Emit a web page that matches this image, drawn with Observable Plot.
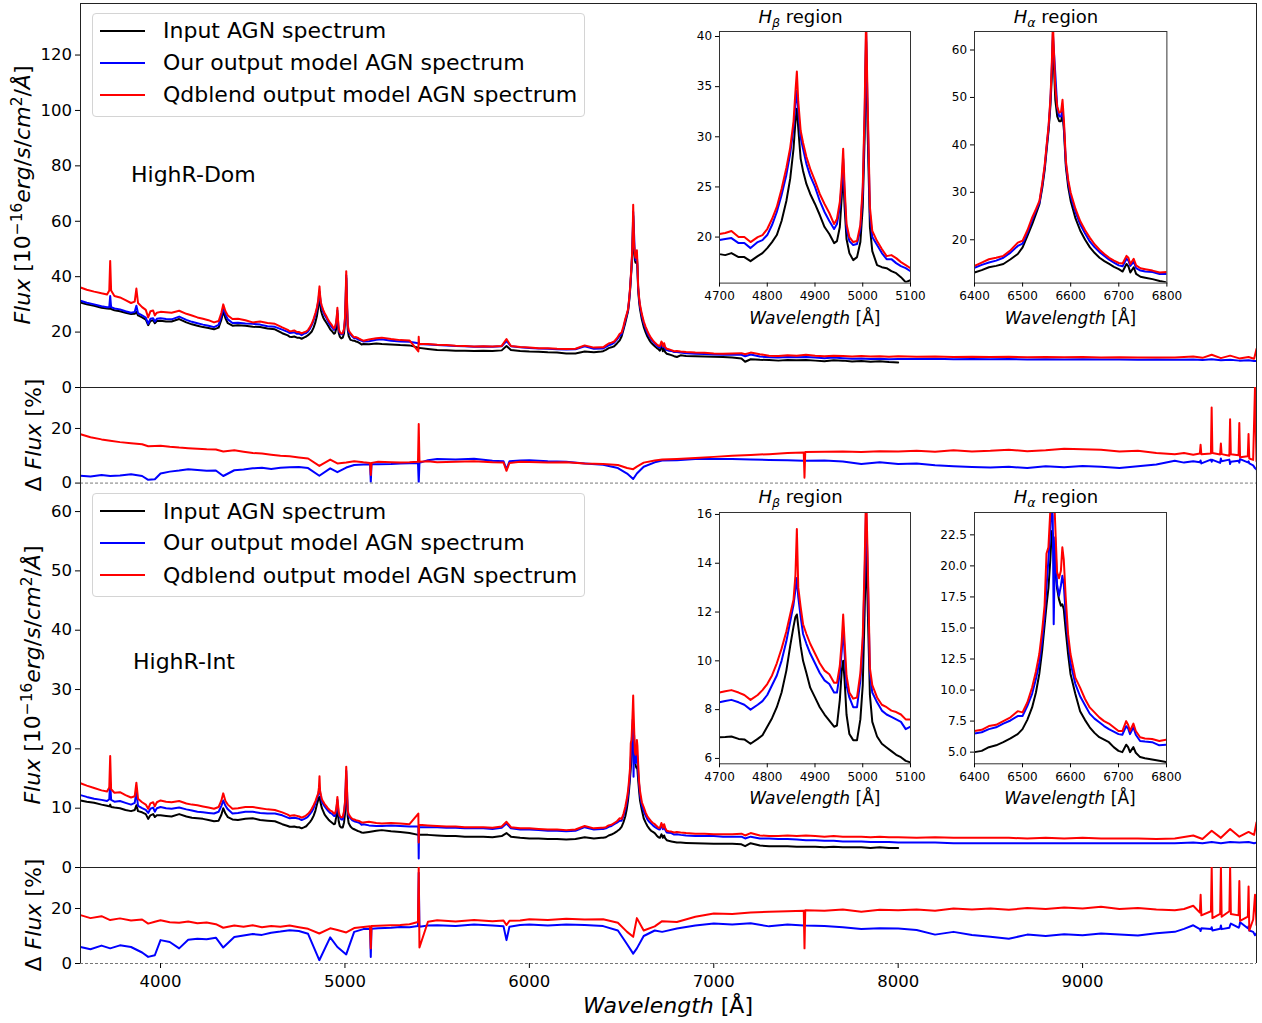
<!DOCTYPE html>
<html>
<head>
<meta charset="utf-8">
<script src="https://cdn.jsdelivr.net/npm/d3@7"></script>
<script src="https://cdn.jsdelivr.net/npm/@observablehq/plot@0.6"></script>
<style>
html,body{margin:0;padding:0;background:#fff;}
#fig{position:relative;width:1262px;height:1023px;overflow:hidden;background:#fff;font-family:"DejaVu Sans",sans-serif;}
#fig sup{font-size:0.7em;line-height:0;vertical-align:0.5em;}
#fig sub{font-size:0.7em;line-height:0;vertical-align:-0.3em;}
</style>
</head>
<body>
<div id="fig"></div>
<script>
// ---------------- labels / categories ----------------
const seriesNames = ["Input AGN spectrum", "Our output model AGN spectrum", "Qdblend output model AGN spectrum"];
const seriesColors = ["#000000", "#0000ff", "#ff0000"];
const panelNames = ["HighR-Dom", "HighR-Int"];
const xTicksMain = [4000, 5000, 6000, 7000, 8000, 9000];
const yTicksDomFlux = [0, 20, 40, 60, 80, 100, 120];
const yTicksIntFlux = [0, 10, 20, 30, 40, 50, 60];
const yTicksDelta = [0, 20];
const hbTicksX = [4700, 4800, 4900, 5000, 5100];
const haTicksX = [6400, 6500, 6600, 6700, 6800];
const hbTicksDom = [20, 25, 30, 35, 40];
const haTicksDom = [20, 30, 40, 50, 60];
const hbTicksInt = [6, 8, 10, 12, 14, 16];
const haTicksInt = [5, 7.5, 10, 12.5, 15, 17.5, 20, 22.5];

// ---------------- wavelength grids (Å) ----------------
const wlA = [3566,3600,3640,3680,3710,3722,3727,3732,3750,3780,
  3810,3840,3860,3869,3878,3900,3920,3933,3945,3960,
  3969,3980,4000,4030,4060,4101,4140,4170,4200,4230,
  4260,4290,4315,4330,4340,4352,4365,4390,4420,4460,
  4500,4540,4580,4620,4660,4690];
const hbWl = [4700,4712,4725,4740,4752,4765,4780,4790,4800,4810,
  4820,4830,4840,4848,4855,4859,4862,4865,4870,4875,
  4882,4890,4900,4910,4920,4930,4940,4946,4952,4956,
  4959,4962,4966,4972,4980,4988,4995,5000,5004,5007,
  5010,5015,5020,5030,5040,5050,5060,5070,5080,5090,
  5100];
const wlB = [5130,5170,5200,5250,5300,5350,5398,5400,5402,5450,
  5500,5550,5600,5650,5700,5750,5800,5850,5876,5900,
  5950,6000,6050,6100,6150,6200,6250,6300,6350,6390];
const haWl = [6400,6415,6430,6445,6460,6475,6490,6500,6510,6520,
  6528,6535,6541,6546,6550,6554,6558,6561,6563,6565,
  6568,6572,6576,6580,6583,6586,6590,6595,6600,6610,
  6620,6630,6640,6650,6660,6670,6680,6690,6700,6708,
  6716,6720,6724,6731,6736,6745,6755,6770,6785,6800];
const wlC = [6820,6850,6900,6950,7000,7050,7100,7150,7170,7200,
  7250,7300,7350,7400,7450,7500,7550,7600,7650,7700,
  7750,7800,7850,7900,7950,8000,8100,8200,8300,8400,
  8500,8600,8700,8800,8900,9000,9100,9200,9300,9400,
  9500,9600,9650,9700,9750,9800,9850,9900,9930,9943];
const dWl = [3566,3620,3680,3727,3780,3840,3900,3933,3969,4000,
  4050,4101,4150,4200,4250,4300,4340,4400,4450,4500,
  4550,4600,4650,4700,4750,4800,4861,4920,4959,5007,
  5050,5100,5136,5140,5144,5180,5250,5300,5350,5396,
  5400,5404,5450,5500,5600,5700,5800,5860,5876,5892,
  5950,6000,6100,6200,6300,6400,6480,6530,6563,6583,
  6620,6680,6720,6800,6900,7000,7100,7200,7300,7400,
  7488,7492,7496,7600,7700,7800,7900,8000,8100,8200,
  8300,8400,8500,8600,8700,8800,8900,9000,9100,9200,
  9300,9400,9500,9550,
  9600,9636,9640,9644,9696,9700,9704,9746,9750,9754,
  9796,9800,9804,9846,9850,9854,9896,9900,9904,9925,
  9935,9943];

// ---------------- HighR-Dom flux (1e-16 erg/s/cm2/Å) ----------------
const domBlackA = [30.7,30.0,29.5,28.8,28.5,28.4,29.2,28.3,27.9,27.5, 27.0,26.5,26.6,27.3,26.0,25.3,24.5,22.5,24.0,24.3, 23.2,24.0,24.1,23.8,23.8,24.7,23.5,22.8,22.3,21.8, 21.5,21.0,21.6,24.5,27.5,25.0,23.2,22.3,22.5,22.3, 21.9,21.8,21.3,21.0,19.6,18.8];
const domBlueA = [31.3,30.6,30.0,29.3,29.0,29.0,33.0,29.0,28.5,28.2, 27.5,27.0,27.3,29.5,26.8,26.0,25.2,23.0,24.8,25.0, 23.8,24.8,25.0,24.7,24.6,25.6,24.4,23.7,23.2,22.7, 22.3,21.8,22.6,25.8,28.9,26.3,24.6,23.3,23.4,23.1, 23.0,22.7,22.1,21.9,20.9,20.1];
const domRedA = [36.1,35.3,34.6,34.0,33.6,35.0,45.7,35.0,33.0,32.5, 31.5,30.5,31.0,35.7,30.5,29.0,28.0,25.3,27.5,27.8, 26.0,27.0,27.3,27.2,27.0,27.7,26.6,26.0,25.3,24.8, 24.3,23.5,24.0,27.0,30.0,27.5,26.0,24.7,24.8,24.3, 23.5,23.8,23.3,23.0,21.7,20.8];
const domHbBlack = [18.3,18.2,18.4,18.0,18.0,17.6,18.1,18.4,18.9,19.5, 20.2,21.6,23.6,25.8,28.8,31.5,32.8,30.8,27.8,26.6, 25.3,24.3,23.3,22.2,21.0,20.3,19.4,19.6,21.0,24.0, 26.6,23.0,19.8,18.4,17.7,18.0,19.5,23.0,30.0,39.5, 31.0,21.0,18.6,17.2,17.0,16.9,16.6,16.4,16.0,15.5, 15.7];
const domHbBlue = [19.7,19.8,19.9,19.4,19.4,18.9,19.5,19.7,20.2,21.2, 22.5,24.2,26.2,28.3,30.9,33.2,34.6,32.6,29.9,28.8, 27.3,26.1,25.0,23.6,22.5,21.6,20.8,21.3,23.0,25.3, 27.8,24.3,20.8,19.6,19.2,19.3,20.8,24.5,32.0,40.5, 33.0,22.4,20.0,19.2,18.4,17.8,17.8,17.4,17.1,16.9, 16.6];
const domHbRed = [20.3,20.4,20.6,20.0,20.0,19.5,20.0,20.2,20.8,21.8, 23.0,24.8,26.9,28.9,31.5,34.5,36.5,33.5,30.6,29.4, 28.0,26.8,25.6,24.3,23.3,22.4,21.3,21.8,23.5,26.0, 28.8,25.0,21.3,20.0,19.5,19.6,21.2,25.0,33.0,42.0, 34.0,23.0,20.6,19.6,18.8,18.1,18.2,17.9,17.5,17.2, 16.9];
const domBlackB = [15.6,15.9,15.7,15.5,15.3,15.2,14.4,14.0,14.3,13.9, 13.5,13.4,13.3,13.3,13.2,13.3,13.2,13.4,15.0,13.5, 13.2,13.0,12.9,12.7,12.6,12.3,12.3,13.0,12.7,13.0];
const domBlueB = [16.7,17.2,17.4,16.9,16.6,16.5,16.0,15.6,15.7,15.5, 15.3,15.2,15.0,14.9,14.7,14.8,14.7,14.9,16.8,14.9, 14.5,14.3,14.1,14.0,13.8,13.7,13.8,14.9,14.0,14.1];
const domRedB = [17.3,17.8,18.0,17.5,17.1,17.0,13.0,18.3,15.8,15.7, 15.4,15.3,15.1,15.0,14.8,14.9,14.8,15.0,17.5,15.0, 14.6,14.4,14.2,14.2,14.0,13.9,14.0,15.2,14.4,14.5];
const domHaBlack = [13.1,13.6,14.2,14.5,14.9,15.9,17.0,18.4,20.8,23.3, 25.5,27.5,31.0,34.8,39.0,43.0,48.5,55.0,62.0,57.0, 49.5,46.0,45.0,45.0,46.5,43.0,35.3,31.0,28.2,24.5, 21.9,20.0,18.4,17.2,16.2,15.5,14.9,14.3,13.8,13.3, 14.9,14.4,13.1,14.2,12.8,12.2,12.0,11.7,11.3,11.0];
const domHaBlue = [14.1,14.7,15.2,15.6,16.2,17.3,18.7,19.2,21.5,24.2, 26.2,27.8,31.6,35.4,39.6,43.6,49.5,57.0,63.4,60.0, 55.0,48.0,46.0,46.0,47.5,44.0,36.0,32.0,29.2,25.8, 23.2,21.3,19.6,18.4,17.4,16.6,15.8,15.2,14.6,14.4, 16.0,15.6,14.5,15.4,14.0,13.5,13.3,13.2,12.8,12.8];
const domHaRed = [14.5,15.2,15.9,16.2,16.6,17.8,19.4,19.8,22.0,24.7, 26.5,28.2,32.0,35.8,40.0,44.0,50.0,58.0,66.0,60.0, 52.0,48.0,46.8,47.0,49.5,45.0,36.6,32.5,29.9,26.5, 23.9,22.0,20.4,19.0,17.9,17.0,16.2,15.6,15.1,15.0, 16.6,16.2,14.9,16.0,14.6,14.0,13.8,13.5,13.1,13.2];
const domBlackC = [11.6,11.4,11.3,11.2,11.1,11.0,10.8,10.5,9.3,10.2, 10.0,9.9,9.7,9.9,9.8,9.9,9.7,9.5,9.8,9.7, 9.4,9.6,9.3,9.5,9.2,9.0];
const domBlueC = [12.6,12.4,12.2,12.1,11.9,11.8,11.8,11.8,11.3,11.9, 11.2,10.9,10.8,11.0,10.9,11.0,10.8,10.6,10.8,10.6, 10.4,10.5,10.3,10.4,10.2,10.3,10.3,10.4,10.2,10.3, 10.2,10.3,10.1,10.2,10.1,10.2,10.1,10.1,10.0,10.1, 10.0,10.1,9.9,10.2,9.8,10.0,9.7,9.8,9.6,9.6];
const domRedC = [13.0,12.8,12.6,12.5,12.3,12.2,12.3,12.4,12.0,12.6, 12.0,11.5,11.4,11.6,11.5,11.8,11.5,11.3,11.5,11.4, 11.2,11.4,11.2,11.3,11.1,11.3,11.1,11.2,11.0,11.1, 11.0,11.1,10.9,11.0,10.9,11.0,10.8,10.9,10.8,10.8, 10.8,11.2,10.7,11.8,10.6,11.5,10.5,11.0,10.4,13.9];

// ---------------- HighR-Int flux ----------------
const intBlackA = [11.3,11.1,10.9,10.6,10.4,10.3,10.6,10.2,10.1,10.0, 9.7,9.5,9.7,10.5,9.5,9.3,9.0,8.2,8.8,9.0, 8.5,8.8,8.8,8.7,8.6,9.0,8.6,8.4,8.3,8.2, 8.0,7.8,7.9,8.9,10.0,9.1,8.5,8.1,8.0,8.2, 8.3,8.0,7.9,7.8,7.3,7.0];
const intBlueA = [12.2,11.9,11.6,11.4,11.2,11.5,14.4,11.4,11.1,11.2, 10.9,10.6,10.9,12.7,10.4,10.0,9.7,9.2,9.9,10.1, 9.4,10.0,10.2,10.0,9.9,10.1,9.8,9.6,9.4,9.3, 9.2,9.1,9.4,10.4,11.3,10.4,9.8,9.1,9.2,9.4, 9.4,9.2,9.1,9.1,8.8,8.4];
const intRedA = [14.2,13.8,13.4,13.0,12.8,13.5,18.8,13.2,12.6,12.7, 12.2,11.8,12.0,14.3,11.6,11.0,10.6,9.9,10.8,11.0, 10.3,11.0,11.3,11.1,11.0,11.2,10.8,10.6,10.5,10.3, 10.1,9.9,10.2,11.3,12.5,11.2,10.6,9.9,10.0,10.2, 10.2,10.0,9.8,9.7,9.3,8.9];
const intHbBlack = [6.87,6.88,6.9,6.8,6.78,6.6,6.8,6.95,7.3,7.65, 8.1,8.7,9.6,10.6,11.4,11.8,11.9,11.4,10.6,10.0, 9.5,8.9,8.5,8.1,7.8,7.55,7.3,7.35,8.4,9.6, 10.0,9.2,7.8,7.0,6.75,6.75,7.6,9.0,12.0,14.7, 12.5,8.6,7.5,6.9,6.6,6.45,6.3,6.15,6.05,5.9, 5.84];
const intHbBlue = [8.3,8.35,8.4,8.3,8.2,8.0,8.2,8.35,8.6,9.0, 9.4,10.0,10.8,11.6,12.3,12.9,13.4,12.6,11.8,11.1, 10.7,10.3,9.9,9.5,9.2,9.05,8.7,8.7,9.5,10.4, 11.4,10.3,9.0,8.5,8.1,8.1,9.2,10.7,13.5,16.3, 14.0,9.5,8.7,8.3,7.96,7.8,7.7,7.6,7.5,7.2, 7.3];
const intHbRed = [8.7,8.75,8.8,8.7,8.6,8.4,8.6,8.8,9.05,9.4, 9.9,10.5,11.2,11.9,12.5,13.5,15.4,13.0,12.2,11.5, 11.1,10.7,10.3,9.9,9.6,9.45,9.1,9.1,9.8,10.8, 11.9,10.8,9.4,8.7,8.45,8.5,9.5,11.0,14.0,17.0, 14.5,9.7,9.0,8.5,8.2,8.1,7.96,7.9,7.8,7.6, 7.6];
const intBlackB = [6.0,6.2,6.3,6.1,6.0,5.8,5.5,5.4,5.5,5.5, 5.4,5.3,5.3,5.2,5.2,5.2,5.1,5.3,5.8,5.2, 5.0,4.9,4.9,4.8,4.8,4.7,4.8,5.1,4.9,5.0];
const intBlueB = [7.1,7.0,7.0,7.1,7.0,6.9,6.9,1.5,6.8,6.8, 6.8,6.7,6.7,6.6,6.6,6.6,6.5,6.7,7.4,6.6, 6.4,6.4,6.3,6.2,6.2,6.1,6.2,6.8,6.4,6.5];
const intRedB = [7.7,7.5,7.4,7.5,7.4,7.3,9.1,4.2,7.2,7.1, 7.0,6.9,6.9,6.8,6.8,6.8,6.7,6.9,7.7,6.8, 6.6,6.6,6.5,6.4,6.4,6.3,6.4,7.0,6.6,6.7];
const intHaBlack = [5.0,5.1,5.4,5.55,5.8,6.1,6.45,6.85,7.6,8.6, 9.8,11.3,13.2,15.2,16.8,18.2,20.5,22.8,22.6,21.5, 19.8,18.2,17.3,16.8,16.9,16.5,14.8,12.9,11.3,9.7, 8.3,7.6,7.0,6.55,6.2,6.0,5.8,5.4,5.1,5.0, 5.6,5.4,5.0,5.4,4.95,4.6,4.5,4.4,4.3,4.2];
const intHaBlue = [6.5,6.6,6.85,7.0,7.3,7.55,7.9,7.9,8.7,9.7, 10.9,12.2,14.0,16.0,18.3,20.5,23.0,25.0,24.0,15.3, 22.3,18.5,17.6,18.4,19.2,18.5,16.0,14.0,12.2,10.5, 9.5,8.8,8.1,7.7,7.4,7.1,6.85,6.65,6.45,6.4, 7.1,6.9,6.45,7.0,6.4,5.9,5.85,5.8,5.55,5.6];
const intHaRed = [6.7,6.8,7.1,7.2,7.5,7.8,8.3,8.2,9.0,10.2, 11.5,12.9,14.8,16.8,21.0,21.5,24.5,27.0,29.0,26.5, 23.5,19.5,19.0,19.6,21.5,20.5,17.5,14.5,12.9,11.0, 10.2,9.3,8.6,8.2,7.8,7.5,7.3,7.0,6.7,6.7, 7.5,7.2,6.7,7.3,6.7,6.2,6.1,6.05,5.9,6.0];
const intBlackC = [4.2,4.15,4.1,4.05,4.0,4.0,4.0,3.9,3.6,4.1, 3.7,3.6,3.6,3.6,3.5,3.5,3.5,3.4,3.5,3.4, 3.4,3.4,3.3,3.4,3.3,3.3];
const intBlueC = [5.5,5.4,5.3,5.3,5.3,5.2,5.2,5.2,4.9,5.2, 4.9,4.9,4.8,4.8,4.7,4.6,4.6,4.5,4.5,4.4, 4.4,4.4,4.3,4.3,4.3,4.2,4.2,4.2,4.1,4.1, 4.1,4.1,4.1,4.1,4.1,4.1,4.1,4.1,4.1,4.1, 4.1,4.2,4.1,4.3,4.1,4.3,4.2,4.3,4.1,4.2];
const intRedC = [5.9,5.8,5.7,5.7,5.6,5.6,5.6,5.7,5.4,5.8, 5.4,5.3,5.3,5.4,5.3,5.4,5.3,5.2,5.3,5.2, 5.2,5.2,5.1,5.2,5.1,5.1,5.0,5.1,5.0,5.0, 5.0,5.0,4.9,5.0,4.9,5.0,4.9,4.9,4.9,4.8, 4.9,5.4,4.8,6.2,5.0,6.5,5.2,6.0,5.5,7.6];

// ---------------- Δ Flux (%) ----------------
const domDeltaBlue = [2.7,2.4,3.0,2.6,2.8,3.2,2.6,1.2,1.4,3.5, 4.2,4.6,5.1,4.8,4.5,4.6,2.6,4.7,5.0,5.4, 5.6,5.2,5.6,5.8,5.9,5.5,2.7,5.4,4.0,5.7, 6.6,6.8,6.9,0.3,6.9,6.9,7.0,7.2,7.3,7.3, 0.0,7.4,8.4,8.8,8.6,8.9,8.2,8.0,5.0,8.0, 8.3,8.4,8.0,7.8,7.2,6.7,5.5,3.5,1.5,3.5, 6.0,7.6,8.3,8.4,8.8,8.8,8.8,8.6,8.5,8.4, 8.2,8.0,8.2,8.3,7.9,7.0,7.6,7.0,7.2,6.5, 6.2,5.9,5.7,6.0,5.5,6.2,5.8,6.3,6.0,5.5, 6.2,6.8,8.2,7.5,
  8.0,7.6,8.3,7.2,8.6,7.8,8.5,7.4,9.0,8.0, 8.6,7.0,7.8,8.2,7.5,8.8,7.6,8.0,7.2,6.5, 5.5,5.0];
const domDeltaRed = [17.9,16.8,16.0,15.5,15.0,14.6,14.2,13.5,13.6,13.7, 13.3,13.0,12.8,12.6,12.4,12.3,11.6,12.0,11.5,11.0, 10.8,10.4,10.0,9.8,9.4,9.0,6.3,8.6,7.2,7.5, 8.0,7.6,7.4,3.0,7.4,7.8,7.6,7.5,7.6,7.8, 21.6,7.8,8.0,7.6,7.8,8.0,7.6,7.5,4.5,7.4, 7.8,7.7,7.5,7.6,7.2,7.0,6.6,5.5,5.1,6.0, 7.5,8.3,8.6,8.8,9.2,9.6,10.0,10.3,10.6,11.0, 11.2,2.0,11.4,11.5,11.6,11.4,11.7,11.6,11.8,11.5, 12.0,11.6,11.8,12.2,11.7,12.0,12.6,12.4,12.2,11.6, 11.8,11.0,10.6,11.0,
  10.4,10.8,14.0,10.6,10.8,27.7,11.0,10.5,14.5,10.6, 10.0,23.4,10.6,10.2,22.0,9.5,9.8,18.0,9.0,8.5, 35.0,8.0];
const intDeltaBlue = [6.0,5.2,6.5,5.5,6.6,6.0,4.0,2.4,3.0,8.5, 7.8,5.5,8.6,9.0,8.8,9.4,5.8,9.6,10.2,10.7, 10.4,11.2,11.6,12.1,11.8,10.8,1.2,9.5,6.0,3.3, 11.5,12.5,12.6,2.4,12.6,12.8,13.0,13.3,13.2,13.6, 33.0,13.4,13.8,13.9,13.6,14.2,13.8,13.5,8.5,13.4, 14.0,14.2,13.8,14.2,14.0,13.6,12.0,7.0,3.6,5.5, 10.0,12.0,11.5,12.7,13.8,14.5,14.2,14.6,13.5,14.2, 13.8,13.9,13.8,13.6,13.2,12.5,12.8,12.7,12.2,10.5, 11.5,10.4,9.7,9.0,10.5,10.0,10.6,10.3,10.9,10.5, 10.2,11.0,11.5,12.6,
  13.9,12.5,11.8,12.8,12.5,13.2,12.0,12.6,13.8,12.5, 13.0,13.9,14.5,13.0,13.5,15.0,12.8,13.5,12.0,11.5, 10.3,11.0];
const intDeltaRed = [17.6,16.5,17.2,15.8,16.4,15.6,16.0,14.5,15.2,15.7, 15.0,14.8,15.3,14.6,14.9,14.3,13.0,13.8,13.4,13.9, 13.2,13.6,13.4,13.8,13.2,12.6,10.9,12.8,12.2,11.3, 12.9,13.3,13.5,5.5,13.6,13.7,13.9,14.0,14.3,15.1, 35.0,5.8,15.2,15.7,15.3,15.8,15.4,15.6,14.0,15.5, 15.6,16.1,15.8,16.3,16.0,16.1,14.8,11.5,9.7,16.5, 12.0,13.5,15.4,15.1,17.0,18.2,18.0,18.5,18.8,19.0, 19.2,5.5,19.4,19.2,19.6,18.8,19.5,19.4,19.6,19.2, 20.0,19.6,20.0,19.5,20.2,19.8,20.4,20.0,20.6,19.8, 20.2,19.6,19.4,19.8,
  21.0,18.5,25.0,17.5,19.0,35.0,16.5,18.0,35.0,17.0, 19.0,35.0,18.0,17.5,30.0,15.5,17.0,28.0,12.0,16.0, 25.0,14.0];

// ---------------- build tables ----------------
const mainWl = [...wlA, ...hbWl, ...wlB, ...haWl, ...wlC];
function rows(wl, vals, name, exact = true) {
  if (vals.length > wl.length || (exact && vals.length !== wl.length))
    throw new Error(`length mismatch in ${name}: ${vals.length} vs ${wl.length}`);
  return vals.map((v, i) => ({w: wl[i], v}));
}
const dom = [
  rows(mainWl, [...domBlackA, ...domHbBlack, ...domBlackB, ...domHaBlack, ...domBlackC], "domBlack", false),
  rows(mainWl, [...domBlueA, ...domHbBlue, ...domBlueB, ...domHaBlue, ...domBlueC], "domBlue"),
  rows(mainWl, [...domRedA, ...domHbRed, ...domRedB, ...domHaRed, ...domRedC], "domRed")
];
const int = [
  rows(mainWl, [...intBlackA, ...intHbBlack, ...intBlackB, ...intHaBlack, ...intBlackC], "intBlack", false),
  rows(mainWl, [...intBlueA, ...intHbBlue, ...intBlueB, ...intHaBlue, ...intBlueC], "intBlue"),
  rows(mainWl, [...intRedA, ...intHbRed, ...intRedB, ...intHaRed, ...intRedC], "intRed")
];
const domDelta = [rows(dWl, domDeltaBlue, "domDB"), rows(dWl, domDeltaRed, "domDR")];
const intDelta = [rows(dWl, intDeltaBlue, "intDB"), rows(dWl, intDeltaRed, "intDR")];

// ---------------- drawing ----------------
const fig = document.getElementById("fig");
const FONT = '"DejaVu Sans", sans-serif';
const X_DOMAIN = [3566, 9943];
const SPINE = "#222";
const plainInt = d => String(d);

function mainPanel({top, plotH, yDomain, yTicks, lines, topRule, bottomDashed, xAxis}) {
  const mt = 3, mb = xAxis ? 50 : 0;
  const marks = lines.map(l => Plot.line(l.data, {x: "w", y: "v", stroke: l.color, strokeWidth: 2, clip: true}));
  marks.push(Plot.ruleX([X_DOMAIN[0], X_DOMAIN[1]], {stroke: SPINE}));
  if (topRule) marks.push(Plot.ruleY([yDomain[1]], {stroke: SPINE}));
  if (bottomDashed) marks.push(Plot.ruleY([0], {stroke: "#777", strokeDasharray: "3,2"}));
  else marks.push(Plot.ruleY([0], {stroke: SPINE}));
  marks.push(Plot.axisY(yTicks, {tickSize: 5, tickPadding: 3.5, label: null, tickFormat: plainInt}));
  if (xAxis) marks.push(Plot.axisX(xTicksMain, {tickSize: 5, tickPadding: 7, label: null, tickFormat: plainInt}));
  const svg = Plot.plot({
    width: 1262, height: plotH + mt + mb,
    marginLeft: 80, marginRight: 6, marginTop: mt, marginBottom: mb,
    x: xAxis ? {domain: X_DOMAIN} : {domain: X_DOMAIN, axis: null},
    y: {domain: yDomain},
    style: {fontFamily: FONT, fontSize: "16.5px", color: "#000", background: "transparent", overflow: "visible"},
    marks
  });
  svg.style.position = "absolute"; svg.style.left = "0px"; svg.style.top = (top - mt) + "px";
  fig.appendChild(svg);
}

function inset({fl, ft, fw, fh, xDomain, xTicks, yDomain, yTicks, yFmt, lines}) {
  const ml = 50, mt = 6, mr = 10, mb = 30;
  const svg = Plot.plot({
    width: fw + ml + mr, height: fh + mt + mb,
    marginLeft: ml, marginTop: mt, marginRight: mr, marginBottom: mb,
    x: {domain: xDomain}, y: {domain: yDomain},
    style: {fontFamily: FONT, fontSize: "12px", color: "#000", background: "transparent", overflow: "visible"},
    marks: [
      Plot.frame({fill: "white", stroke: "none"}),
      ...lines.map(l => Plot.line(l.data, {x: "w", y: "v", stroke: l.color, strokeWidth: 2, clip: true})),
      Plot.frame({stroke: "#333"}),
      Plot.axisX(xTicks, {tickSize: 4, tickPadding: 4.4, label: null, tickFormat: plainInt}),
      Plot.axisY(yTicks, {tickSize: 4, tickPadding: 3.5, label: null, tickFormat: yFmt || plainInt})
    ]
  });
  svg.style.position = "absolute"; svg.style.left = (fl - ml) + "px"; svg.style.top = (ft - mt) + "px";
  fig.appendChild(svg);
}

function txt(html, x, capY, size, {anchor = "start", rotate = false} = {}) {
  const d = document.createElement("div");
  d.innerHTML = html;
  d.style.cssText = `position:absolute;white-space:nowrap;font-family:${FONT};font-size:${size}px;line-height:${(size * 1.2).toFixed(2)}px;color:#000;`;
  if (rotate) {
    d.style.left = x + "px"; d.style.top = capY + "px";
    d.style.transform = "translate(-50%,-50%) rotate(-90deg)";
  } else {
    d.style.top = (capY - 0.58 * size) + "px";
    d.style.left = x + "px";
    if (anchor === "middle") d.style.transform = "translateX(-50%)";
  }
  fig.appendChild(d);
}

function legend(top) {
  const box = document.createElement("div");
  box.style.cssText = `position:absolute;left:92px;top:${top}px;width:493px;height:104px;box-sizing:border-box;border:1px solid #d4d4d4;border-radius:4px;background:rgba(255,255,255,0.8);`;
  fig.appendChild(box);
  const offs = [18, 49.7, 82];
  seriesNames.forEach((name, i) => {
    const cy = top + offs[i];
    const ln = document.createElement("div");
    ln.style.cssText = `position:absolute;left:100px;top:${cy - 1}px;width:45px;height:2px;background:${seriesColors[i]};`;
    fig.appendChild(ln);
    txt(name, 163, cy, 22);
  });
}

const col = (arr, idx) => arr.map((d, i) => ({data: d, color: seriesColors[idx[i]]}));

// panels
mainPanel({top: 2.7, plotH: 384, yDomain: [0, 138.6], yTicks: yTicksDomFlux, lines: col(dom, [0,1,2]), topRule: true});
mainPanel({top: 386.7, plotH: 95.6, yDomain: [0, 35.0], yTicks: yTicksDelta, lines: col(domDelta, [1,2]), bottomDashed: true});
mainPanel({top: 482.3, plotH: 385, yDomain: [0, 64.9], yTicks: yTicksIntFlux, lines: col(int, [0,1,2])});
mainPanel({top: 867.3, plotH: 96, yDomain: [0, 34.9], yTicks: yTicksDelta, lines: col(intDelta, [1,2]), bottomDashed: true, xAxis: true});

// insets
inset({fl: 719.3, ft: 30.7, fw: 191, fh: 251.6, xDomain: [4700, 5100], xTicks: hbTicksX, yDomain: [15.41, 40.5], yTicks: hbTicksDom, lines: col(dom, [0,1,2])});
inset({fl: 974.3, ft: 30.7, fw: 192.4, fh: 251.6, xDomain: [6400, 6800], xTicks: haTicksX, yDomain: [10.87, 63.9], yTicks: haTicksDom, lines: col(dom, [0,1,2])});
inset({fl: 719.3, ft: 511.7, fw: 191, fh: 251.3, xDomain: [4700, 5100], xTicks: hbTicksX, yDomain: [5.78, 16.08], yTicks: hbTicksInt, lines: col(int, [0,1,2])});
inset({fl: 974, ft: 511.7, fw: 192, fh: 251.3, xDomain: [6400, 6800], xTicks: haTicksX, yDomain: [4.06, 24.3], yTicks: haTicksInt, yFmt: d3.format(".1f"), lines: col(int, [0,1,2])});

// texts
const fluxLabel = '<i>Flux</i> [10<sup>−16</sup><i>erg</i>/<i>s</i>/<i>cm</i><sup>2</sup>/<i>Å</i>]';
const deltaLabel = 'Δ <i>Flux</i> [%]';
const wlLabel = '<i>Wavelength</i> [Å]';
txt(fluxLabel, 23.3, 194.7, 22, {rotate: true});
txt(deltaLabel, 34.2, 434.5, 22, {rotate: true});
txt(fluxLabel, 33.3, 674.8, 22, {rotate: true});
txt(deltaLabel, 34.2, 915.3, 22, {rotate: true});
txt(wlLabel, 668, 1006, 22, {anchor: "middle"});

txt(panelNames[0], 131, 174.3, 22);
txt(panelNames[1], 133, 661.7, 22);

const hbTitle = '<i>H</i><sub><i>β</i></sub> region';
const haTitle = '<i>H</i><sub><i>α</i></sub> region';
txt(hbTitle, 800.5, 16, 18, {anchor: "middle"});
txt(haTitle, 1056, 16, 18, {anchor: "middle"});
txt(hbTitle, 800.5, 496.7, 18, {anchor: "middle"});
txt(haTitle, 1056, 496.7, 18, {anchor: "middle"});
txt(wlLabel, 814.8, 318, 17, {anchor: "middle"});
txt(wlLabel, 1070.5, 318, 17, {anchor: "middle"});
txt(wlLabel, 814.8, 798, 17, {anchor: "middle"});
txt(wlLabel, 1070, 798, 17, {anchor: "middle"});

legend(13);
legend(493.3);
</script>
</body>
</html>
